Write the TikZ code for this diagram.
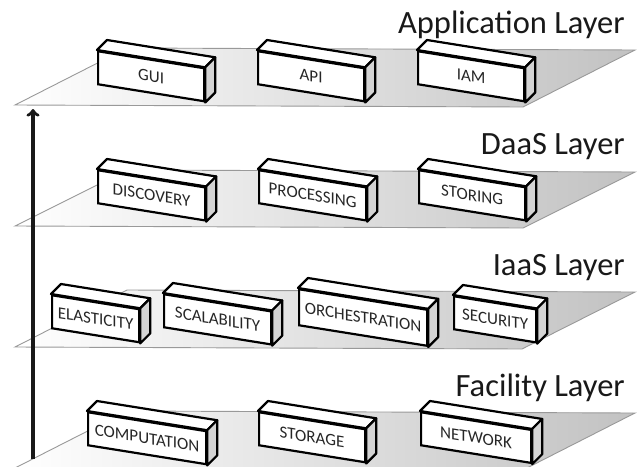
\documentclass[tikz,border=0pt]{standalone}
\usepackage{fontspec}
\setmainfont{Carlito}
\usepackage{tikz}
\pgfdeclarelayer{planelayer}
\pgfdeclarelayer{edgelayer}
\pgfdeclarelayer{nodelayer}
\pgfsetlayers{planelayer,edgelayer,nodelayer,main}
\tikzstyle{none}=[inner sep=0pt]
\definecolor{planeedge}{rgb}{0.6,0.6,0.6}
\definecolor{planegrey}{rgb}{0.76,0.76,0.76}
\definecolor{sidegrey}{rgb}{0.83,0.83,0.83}
\definecolor{textgrey}{rgb}{0.15,0.15,0.15}
\tikzstyle{plane}=[draw=planeedge, line width=0.9pt, left color=white, right color=planegrey]
\tikzstyle{block}=[draw, line width=2.2pt, fill=white, anchor=north west, inner sep=0pt, minimum height=33, text=textgrey, font=\fontsize{17}{19}\selectfont, yslant=-0.16, transform shape]
\tikzstyle{topface}=[draw, line width=2.2pt, fill=white, line join=round]
\tikzstyle{sideface}=[draw, line width=2.2pt, fill=sidegrey, line join=round]
\tikzstyle{layername}=[inner sep=0pt, anchor=base east, text=black!90, font=\fontsize{32.5}{35}\selectfont]
\tikzstyle{upline}=[->, line width=3.4pt, draw=black!90]

\begin{document}
\begin{tikzpicture}[x=1pt, y=-1pt]
	\useasboundingbox (0,0) rectangle (639,466);
	\begin{pgfonlayer}{nodelayer}
		\node [style=layername] (0) at (625, 33) {Application Layer};
		\node [style=layername] (1) at (625, 154) {DaaS Layer};
		\node [style=layername] (2) at (625, 275) {IaaS Layer};
		\node [style=layername] (3) at (625, 396) {Facility Layer};
		\node [style=block, minimum width=106] (4) at (97, 50) {GUI};
		\node [style=block, minimum width=106] (5) at (257, 50) {API};
		\node [style=block, minimum width=106] (6) at (417, 50) {IAM};
		\node [style=block, minimum width=107] (7) at (97, 169) {DISCOVERY};
		\node [style=block, minimum width=107] (8) at (258, 169) {PROCESSING};
		\node [style=block, minimum width=106] (9) at (418, 169) {STORING};
		\node [style=block, minimum width=87] (10) at (51, 294) {ELASTICITY};
		\node [style=block, minimum width=107] (11) at (163, 293) {SCALABILITY};
		\node [style=block, minimum width=128, minimum height=36] (12) at (298, 288) {ORCHESTRATION};
		\node [style=block, minimum width=82] (13) at (453, 295) {SECURITY};
		\node [style=block, minimum width=118] (14) at (87, 411) {COMPUTATION};
		\node [style=block, minimum width=106] (15) at (258, 411) {STORAGE};
		\node [style=block, minimum width=110] (16) at (420, 411) {NETWORK};
		\node [style=none] (17) at (15, 105) {};
		\node [style=none] (18) at (523, 107) {};
		\node [style=none] (19) at (635, 50) {};
		\node [style=none] (20) at (127, 48) {};
		\node [style=none] (21) at (15, 226) {};
		\node [style=none] (22) at (523, 228) {};
		\node [style=none] (23) at (635, 172) {};
		\node [style=none] (24) at (127, 170) {};
		\node [style=none] (25) at (15, 347) {};
		\node [style=none] (26) at (522, 349) {};
		\node [style=none] (27) at (635, 292) {};
		\node [style=none] (28) at (127, 290) {};
		\node [style=none] (29) at (15, 468) {};
		\node [style=none] (30) at (523, 470) {};
		\node [style=none] (31) at (635, 413) {};
		\node [style=none] (32) at (127, 411) {};
		\node [style=none] (33) at (33, 459) {};
		\node [style=none] (34) at (33, 109) {};
	\end{pgfonlayer}
	\begin{pgfonlayer}{planelayer}
		\begin{scope}
			\clip (0,0) rectangle (639,466);
			\draw [style=plane] (17.center) to (18.center) to (19.center) to (20.center) -- cycle;
			\draw [style=plane] (21.center) to (22.center) to (23.center) to (24.center) -- cycle;
			\draw [style=plane] (25.center) to (26.center) to (27.center) to (28.center) -- cycle;
			\draw [style=plane] (29.center) to (30.center) to (31.center) to (32.center) -- cycle;
		\end{scope}
	\end{pgfonlayer}
	\begin{pgfonlayer}{edgelayer}
		\draw [style=upline] (33.center) to (34.center);
		\draw [style=topface] (4.north west) -- ++(10,-10) -- ([shift={(10,-10)}]4.north east) -- (4.north east) -- cycle;
		\draw [style=sideface] (4.north east) -- ++(10,-10) -- ([shift={(10,-10)}]4.south east) -- (4.south east) -- cycle;
		\draw [style=topface] (5.north west) -- ++(10,-10) -- ([shift={(10,-10)}]5.north east) -- (5.north east) -- cycle;
		\draw [style=sideface] (5.north east) -- ++(10,-10) -- ([shift={(10,-10)}]5.south east) -- (5.south east) -- cycle;
		\draw [style=topface] (6.north west) -- ++(10,-10) -- ([shift={(10,-10)}]6.north east) -- (6.north east) -- cycle;
		\draw [style=sideface] (6.north east) -- ++(10,-10) -- ([shift={(10,-10)}]6.south east) -- (6.south east) -- cycle;
		\draw [style=topface] (7.north west) -- ++(10,-10) -- ([shift={(10,-10)}]7.north east) -- (7.north east) -- cycle;
		\draw [style=sideface] (7.north east) -- ++(10,-10) -- ([shift={(10,-10)}]7.south east) -- (7.south east) -- cycle;
		\draw [style=topface] (8.north west) -- ++(10,-10) -- ([shift={(10,-10)}]8.north east) -- (8.north east) -- cycle;
		\draw [style=sideface] (8.north east) -- ++(10,-10) -- ([shift={(10,-10)}]8.south east) -- (8.south east) -- cycle;
		\draw [style=topface] (9.north west) -- ++(10,-10) -- ([shift={(10,-10)}]9.north east) -- (9.north east) -- cycle;
		\draw [style=sideface] (9.north east) -- ++(10,-10) -- ([shift={(10,-10)}]9.south east) -- (9.south east) -- cycle;
		\draw [style=topface] (10.north west) -- ++(10,-10) -- ([shift={(10,-10)}]10.north east) -- (10.north east) -- cycle;
		\draw [style=sideface] (10.north east) -- ++(10,-10) -- ([shift={(10,-10)}]10.south east) -- (10.south east) -- cycle;
		\draw [style=topface] (11.north west) -- ++(10,-10) -- ([shift={(10,-10)}]11.north east) -- (11.north east) -- cycle;
		\draw [style=sideface] (11.north east) -- ++(10,-10) -- ([shift={(10,-10)}]11.south east) -- (11.south east) -- cycle;
		\draw [style=topface] (12.north west) -- ++(10,-10) -- ([shift={(10,-10)}]12.north east) -- (12.north east) -- cycle;
		\draw [style=sideface] (12.north east) -- ++(10,-10) -- ([shift={(10,-10)}]12.south east) -- (12.south east) -- cycle;
		\draw [style=topface] (13.north west) -- ++(10,-10) -- ([shift={(10,-10)}]13.north east) -- (13.north east) -- cycle;
		\draw [style=sideface] (13.north east) -- ++(10,-10) -- ([shift={(10,-10)}]13.south east) -- (13.south east) -- cycle;
		\draw [style=topface] (14.north west) -- ++(10,-10) -- ([shift={(10,-10)}]14.north east) -- (14.north east) -- cycle;
		\draw [style=sideface] (14.north east) -- ++(10,-10) -- ([shift={(10,-10)}]14.south east) -- (14.south east) -- cycle;
		\draw [style=topface] (15.north west) -- ++(10,-10) -- ([shift={(10,-10)}]15.north east) -- (15.north east) -- cycle;
		\draw [style=sideface] (15.north east) -- ++(10,-10) -- ([shift={(10,-10)}]15.south east) -- (15.south east) -- cycle;
		\draw [style=topface] (16.north west) -- ++(10,-10) -- ([shift={(10,-10)}]16.north east) -- (16.north east) -- cycle;
		\draw [style=sideface] (16.north east) -- ++(10,-10) -- ([shift={(10,-10)}]16.south east) -- (16.south east) -- cycle;
	\end{pgfonlayer}
\end{tikzpicture}
\end{document}
